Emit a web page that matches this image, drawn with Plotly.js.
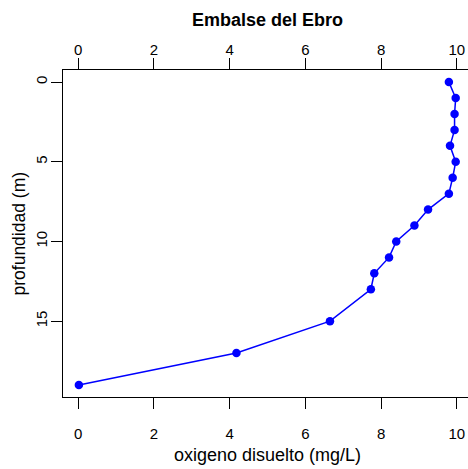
<!DOCTYPE html>
<html>
<head>
<meta charset="utf-8">
<script src="https://cdn.plot.ly/plotly-3.0.1.min.js"></script>
<style>
html,body{margin:0;padding:0;overflow:hidden;background:#fff;}
#chart{width:468px;height:469px;}
</style>
</head>
<body>
<div id="chart"></div>
<script>
var depth = [0, 1, 2, 3, 4, 5, 6, 7, 8, 9, 10, 11, 12, 13, 15, 17, 19];
var oxygen = [9.79, 9.97, 9.94, 9.94, 9.82, 9.97, 9.89, 9.79, 9.24, 8.88, 8.40, 8.21, 7.82, 7.73, 6.65, 4.18, 0.02];
var xTicks = [0, 2, 4, 6, 8, 10];
var yTicks = [0, 5, 10, 15];
var titleText = "Embalse del Ebro";
var xLabel = "oxigeno disuelto (mg/L)";
var yLabel = "profundidad (m)";

var FONT = "Liberation Sans, Arial, Helvetica, sans-serif";

var traces = [
  {
    x: oxygen, y: depth, type: "scatter", mode: "lines+markers",
    line: {color: "#0000ff", width: 1.5},
    marker: {color: "#0000ff", size: 8.5},
    xaxis: "x", yaxis: "y", hoverinfo: "none"
  },
  {
    x: oxygen, y: depth, type: "scatter", mode: "markers",
    marker: {opacity: 0}, xaxis: "x2", yaxis: "y", hoverinfo: "none"
  }
];

var axCommon = {
  range: [-0.4, 10.295],
  tickvals: xTicks, ticktext: xTicks.map(String),
  ticks: "outside", ticklen: 11, tickwidth: 1, tickcolor: "#000",
  showline: true, linecolor: "#000", linewidth: 1.3,
  showgrid: false, zeroline: false,
  tickfont: {family: FONT, size: 15, color: "#000"}
};

var layout = {
  width: 468, height: 469,
  margin: {l: 63, r: 0, t: 70, b: 72, pad: 0},
  paper_bgcolor: "#fff", plot_bgcolor: "#fff",
  showlegend: false,
  title: {
    text: "<b>" + titleText + "</b>",
    font: {family: FONT, size: 18, color: "#000"},
    xref: "container", yref: "container",
    x: 267.5 / 468, y: 1 - 20 / 469, xanchor: "center", yanchor: "middle"
  },
  xaxis: Object.assign({}, axCommon, {side: "bottom", ticklabelstandoff: 12}),
  xaxis2: Object.assign({}, axCommon, {side: "top", overlaying: "x", matches: "x", ticklabelstandoff: -3}),
  yaxis: {
    range: [19.76, -0.76],
    tickvals: yTicks, ticktext: yTicks.map(String),
    ticks: "outside", ticklen: 11, tickwidth: 1, tickcolor: "#000",
    tickangle: -90,
    showline: true, linecolor: "#000", linewidth: 1.3,
    showgrid: false, zeroline: false,
    ticklabelstandoff: -2,
    tickfont: {family: FONT, size: 15, color: "#000"}
  },
  annotations: [
    {
      text: xLabel, xref: "paper", yref: "paper",
      x: (267.5 - 63) / 405, y: -(455 - 397) / 327,
      xanchor: "center", yanchor: "middle", showarrow: false,
      font: {family: FONT, size: 18, color: "#000"}
    },
    {
      text: yLabel, xref: "paper", yref: "paper",
      x: (18 - 63) / 405, y: 0.5, textangle: -90,
      xanchor: "center", yanchor: "middle", showarrow: false,
      font: {family: FONT, size: 17.5, color: "#000"}
    }
  ]
};

Plotly.newPlot("chart", traces, layout, {staticPlot: true, displayModeBar: false});
</script>
</body>
</html>
